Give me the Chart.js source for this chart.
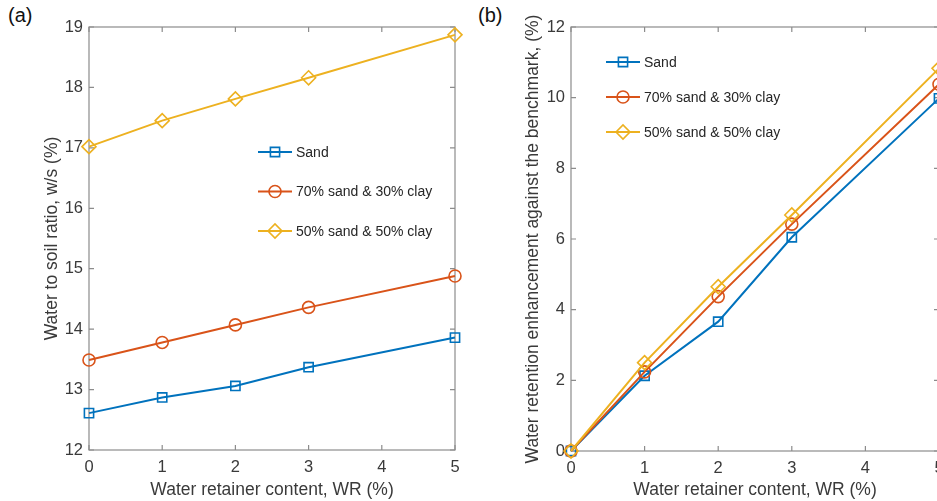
<!DOCTYPE html>
<html lang="en">
<head>
    <meta charset="UTF-8">
    <title>Water to soil ratio and water retention enhancement</title>
    <script src="https://cdn.jsdelivr.net/npm/chart.js"></script>
    <style>
        body { margin: 0; background: #fff; overflow: hidden; }
        #wrap { position: relative; width: 937px; height: 501px; overflow: hidden; }
        .panel-label { position: absolute; font-family: "Liberation Sans", Arial, sans-serif; font-size: 20px; color: #111; }
        canvas { position: absolute; top: 0; }
    </style>
</head>
<body>
    <div id="wrap">
        <div class="panel-label" style="left:8px; top:4px;">(a)</div>
        <div class="panel-label" style="left:478px; top:4px;">(b)</div>
        <canvas id="chartA" width="470" height="501" style="left:0px;"></canvas>
        <canvas id="chartB" width="490" height="501" style="left:470px;"></canvas>
    </div>

    <script>
        // data
        const wrContent = [0, 1, 2, 3, 5];
        const seriesNames = ['Sand', '70% sand & 30% clay', '50% sand & 50% clay'];

        // (a) water to soil ratio, w/s (%)
        const wsSand = [12.61, 12.87, 13.06, 13.37, 13.86];
        const ws70 = [13.49, 13.78, 14.07, 14.36, 14.88];
        const ws50 = [17.02, 17.45, 17.81, 18.16, 18.87];

        // (b) water retention enhancement (%)
        const enhSand = [0, 2.13, 3.66, 6.05, 9.98];
        const enh70 = [0, 2.24, 4.37, 6.42, 10.38];
        const enh50 = [0, 2.50, 4.65, 6.68, 10.83];

        const colors = ['#0072BD', '#D95319', '#EDB120'];
        const markers = ['rect', 'circle', 'rectRot'];
        const markerSize = [6.5, 6, 7];
        const FONT = '"Liberation Sans", Arial, Helvetica, sans-serif';
        const AXIS_COLOR = '#8c8c8c';
        const TEXT_COLOR = '#3a3a3a';

        function makeDatasets(lists) {
            return lists.map((vals, i) => ({
                label: seriesNames[i],
                data: wrContent.map((x, j) => ({ x: x, y: vals[j] })),
                borderColor: colors[i],
                backgroundColor: 'transparent',
                borderWidth: 2,
                pointStyle: markers[i],
                pointRadius: markerSize[i],
                pointBorderWidth: 1.6,
                pointBorderColor: colors[i],
                pointBackgroundColor: 'transparent',
                tension: 0,
                clip: false,
                order: 3 - i
            }));
        }

        // box around plot area + inward ticks on all four sides
        const boxPlugin = {
            id: 'box',
            beforeDatasetsDraw(chart) {
                const { ctx, chartArea: a, scales } = chart;
                ctx.save();
                ctx.strokeStyle = AXIS_COLOR;
                ctx.lineWidth = 1.2;
                ctx.strokeRect(a.left, a.top, a.right - a.left, a.bottom - a.top);
                ctx.beginPath();
                scales.x.ticks.forEach(t => {
                    const px = scales.x.getPixelForValue(t.value);
                    ctx.moveTo(px, a.bottom); ctx.lineTo(px, a.bottom - 5);
                    ctx.moveTo(px, a.top); ctx.lineTo(px, a.top + 5);
                });
                scales.y.ticks.forEach(t => {
                    const py = scales.y.getPixelForValue(t.value);
                    ctx.moveTo(a.left, py); ctx.lineTo(a.left + 5, py);
                    ctx.moveTo(a.right, py); ctx.lineTo(a.right - 5, py);
                });
                ctx.stroke();
                ctx.restore();
            }
        };

        // legend inside the plot, MATLAB style
        const legendPlugin = {
            id: 'inLegend',
            afterDraw(chart, args, opts) {
                const { ctx, chartArea: a } = chart;
                ctx.save();
                chart.data.datasets.forEach((ds, i) => {
                    const x0 = a.left + opts.dx;
                    const y = a.top + opts.dy + i * opts.gap;
                    ctx.strokeStyle = ds.borderColor;
                    ctx.lineWidth = 2;
                    ctx.beginPath();
                    ctx.moveTo(x0, y); ctx.lineTo(x0 + 34, y);
                    ctx.stroke();
                    ctx.lineWidth = 1.6;
                    ctx.fillStyle = 'rgba(0,0,0,0)';
                    Chart.helpers.drawPoint(ctx, {
                        pointStyle: ds.pointStyle,
                        radius: ds.pointRadius,
                        rotation: 0,
                        borderWidth: 1.6
                    }, x0 + 17, y);
                    ctx.fillStyle = '#262626';
                    ctx.font = '14px ' + FONT;
                    ctx.textBaseline = 'middle';
                    ctx.textAlign = 'left';
                    ctx.fillText(ds.label, x0 + 38, y + 1);
                });
                ctx.restore();
            }
        };

        function makeOptions(cfg) {
            return {
                responsive: false,
                animation: false,
                devicePixelRatio: 1,
                layout: { padding: { left: 0, top: 27, right: cfg.padRight, bottom: 0 } },
                plugins: {
                    legend: { display: false },
                    tooltip: { enabled: false },
                    inLegend: cfg.legend
                },
                scales: {
                    x: {
                        type: 'linear',
                        min: 0, max: 5,
                        ticks: { stepSize: 1, color: TEXT_COLOR, font: { family: FONT, size: 16.5 }, padding: 8, maxRotation: 0 },
                        grid: { drawOnChartArea: false, drawTicks: false },
                        border: { display: false },
                        title: {
                            display: true, text: 'Water retainer content, WR (%)',
                            color: TEXT_COLOR, font: { family: FONT, size: 17.5 },
                            padding: { top: 0, bottom: 0 }
                        },
                        afterFit(s) { s.height = cfg.xHeight; }
                    },
                    y: {
                        min: cfg.yMin, max: cfg.yMax,
                        ticks: { stepSize: cfg.yStep, color: TEXT_COLOR, font: { family: FONT, size: 16.5 }, padding: 6 },
                        grid: { drawOnChartArea: false, drawTicks: false },
                        border: { display: false },
                        title: {
                            display: true, text: cfg.yTitle,
                            color: TEXT_COLOR, font: { family: FONT, size: 17.5 },
                            padding: { top: cfg.yTitlePad, bottom: 0 }
                        },
                        afterFit(s) { s.width = cfg.yWidth; }
                    }
                }
            };
        }

        new Chart(document.getElementById('chartA'), {
            type: 'line',
            data: { datasets: makeDatasets([wsSand, ws70, ws50]) },
            options: makeOptions({
                padRight: 15, xHeight: 51, yWidth: 89,
                yMin: 12, yMax: 19, yStep: 1,
                yTitle: 'Water to soil ratio, w/s (%)', yTitlePad: 41.5,
                legend: { dx: 169, dy: 125, gap: 39.5 }
            }),
            plugins: [boxPlugin, legendPlugin]
        });

        new Chart(document.getElementById('chartB'), {
            type: 'line',
            data: { datasets: makeDatasets([enhSand, enh70, enh50]) },
            options: makeOptions({
                padRight: 21, xHeight: 50, yWidth: 101,
                yMin: 0, yMax: 12, yStep: 2,
                yTitle: 'Water retention enhancement against the benchmark, (%)', yTitlePad: 52.5,
                legend: { dx: 35, dy: 35, gap: 35 }
            }),
            plugins: [boxPlugin, legendPlugin]
        });
    </script>
</body>
</html>
